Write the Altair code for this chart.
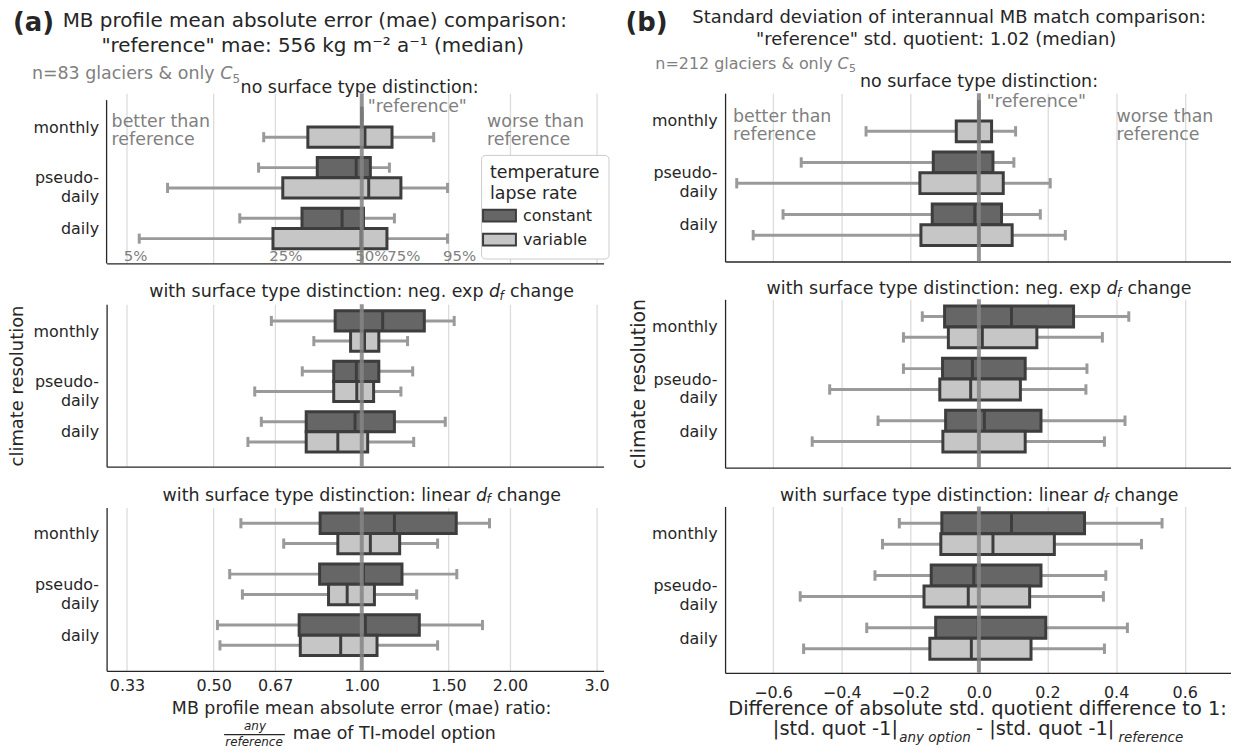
import altair as alt
import pandas as pd

FONT = "DejaVu Sans"
TXT = "#262626"
GRAY = "#808080"

climate_order = ["monthly", "pseudo-daily", "daily"]
box_climate = ["monthly", "monthly", "pseudo-daily", "pseudo-daily", "daily", "daily"]
box_lapse = ["constant", "variable", "constant", "variable", "constant", "variable"]

# each box: (5%, 25%, median, 75%, 95%)
mae_no_distinction = [
    (1.0, 1.0, 1.0, 1.0, 1.0),
    (0.632, 0.777, 1.015, 1.152, 1.40),
    (0.617, 0.812, 0.974, 1.041, 1.138),
    (0.403, 0.691, 1.033, 1.201, 1.494),
    (0.565, 0.756, 0.912, 1.008, 1.165),
    (0.353, 0.660, 0.997, 1.125, 1.494),
]
mae_neg_exp = [
    (0.655, 0.883, 1.103, 1.340, 1.541),
    (0.799, 0.949, 1.013, 1.083, 1.239),
    (0.757, 0.877, 0.975, 1.083, 1.269),
    (0.606, 0.877, 0.977, 1.057, 1.201),
    (0.625, 0.771, 0.969, 1.165, 1.478),
    (0.587, 0.771, 0.894, 1.028, 1.275),
]
mae_linear = [
    (0.568, 0.823, 1.165, 1.556, 1.818),
    (0.694, 0.894, 1.041, 1.194, 1.426),
    (0.539, 0.821, 1.008, 1.207, 1.560),
    (0.572, 0.856, 0.934, 1.061, 1.293),
    (0.509, 0.746, 1.017, 1.309, 1.759),
    (0.515, 0.750, 0.906, 1.074, 1.426),
]
std_no_distinction = [
    (0.0, 0.0, 0.0, 0.0, 0.0),
    (-0.329, -0.066, 0.0, 0.037, 0.107),
    (-0.518, -0.133, 0.0, 0.041, 0.102),
    (-0.706, -0.172, -0.002, 0.071, 0.208),
    (-0.571, -0.136, -0.012, 0.066, 0.179),
    (-0.658, -0.169, 0.0, 0.097, 0.252),
]
std_neg_exp = [
    (-0.165, -0.100, 0.095, 0.276, 0.437),
    (-0.220, -0.089, 0.010, 0.169, 0.360),
    (-0.220, -0.106, -0.019, 0.135, 0.315),
    (-0.435, -0.114, -0.024, 0.121, 0.312),
    (-0.294, -0.097, 0.016, 0.181, 0.426),
    (-0.486, -0.105, 0.0, 0.135, 0.366),
]
std_linear = [
    (-0.232, -0.108, 0.095, 0.308, 0.534),
    (-0.281, -0.111, 0.041, 0.220, 0.474),
    (-0.303, -0.139, -0.015, 0.181, 0.370),
    (-0.521, -0.160, -0.031, 0.148, 0.363),
    (-0.327, -0.126, -0.002, 0.195, 0.433),
    (-0.511, -0.143, -0.022, 0.152, 0.366),
]

mae_ticks = [1 / 3, 0.5, 2 / 3, 1.0, 1.5, 2.0, 3.0]
mae_tick_labels = ["0.33", "0.50", "0.67", "1.00", "1.50", "2.00", "3.0"]
std_ticks = [-0.6, -0.4, -0.2, 0.0, 0.2, 0.4, 0.6]
pct_labels = ["5%", "25%", "50%", "75%", "95%"]
pct_label_x = [0.347, 0.701, 1.048, 1.217, 1.58]


def box_frame(stats):
    rows = []
    for c, l, s in zip(box_climate, box_lapse, stats):
        g = climate_order.index(c)
        top = g - 0.4 if l == "constant" else g
        rows.append({"climate": c, "lapse": l, "lo": s[0], "q1": s[1], "med": s[2],
                     "q3": s[3], "hi": s[4], "top": top, "bot": top + 0.4,
                     "mid": top + 0.2, "cap0": top + 0.1, "cap1": top + 0.3})
    return pd.DataFrame(rows)


mae_expr = " : ".join(
    f"abs(datum.value - {t}) < 1e-6 ? '{lab}'" for t, lab in zip(mae_ticks, mae_tick_labels)
) + " : ''"
ylab_expr = ("datum.value == 0 ? 'monthly' : datum.value == 1 ? ['pseudo-', 'daily'] : "
             "datum.value == 2 ? 'daily' : ''")


def y_axis(title=None, size=18, pad=7, domain=True):
    return alt.Axis(values=[0, 1, 2], labelExpr=ylab_expr, title=title, ticks=False, grid=False,
                    labelPadding=8, labelFontSize=16, labelColor=TXT, labelLineHeight=19,
                    domain=domain, domainColor=TXT, domainWidth=1.3, titleFontSize=size,
                    titleFontWeight="normal", titleColor=TXT, titlePadding=pad, titleFont=FONT,
                    labelFont=FONT)


def x_axis(kind, labels):
    kw = dict(grid=True, gridColor="#dcdcdc", gridWidth=1.3, ticks=False, labels=labels,
              title=None, domainColor=TXT, domainWidth=1.3, labelFontSize=16, labelColor=TXT,
              labelOverlap=False, labelFlush=False, labelFont=FONT)
    if kind == "mae":
        return alt.Axis(values=mae_ticks, labelExpr=mae_expr, labelPadding=7, **kw)
    return alt.Axis(values=std_ticks, format=".1f", labelPadding=12, **kw)


def text(t, x, y, size, color=TXT, align="left", style="normal", weight="normal",
         baseline="middle", line_height=None):
    props = dict(x=x, y=y, fontSize=size, color=color, align=align, baseline=baseline,
                 fontStyle=style, fontWeight=weight, font=FONT)
    if line_height is not None:
        props.update(lineBreak="\n", lineHeight=line_height)
    return alt.Chart(pd.DataFrame({"t": [t]})).mark_text(**props).encode(text="t:N")


def panel(stats, kind, ref, width, height, ydomain, yaxis, labels, extra, legend=None):
    df = box_frame(stats)
    if kind == "mae":
        xscale = alt.Scale(type="log", domain=[0.303, 3.10], nice=False)
    else:
        xscale = alt.Scale(domain=[-0.74, 0.735], nice=False, zero=False)
    xaxis = x_axis(kind, labels)
    yscale = alt.Scale(domain=ydomain, reverse=True, nice=False, zero=False)

    def X(f):
        return alt.X(f, type="quantitative", scale=xscale, axis=xaxis)

    def Y(f):
        return alt.Y(f, type="quantitative", scale=yscale, axis=yaxis)

    base = alt.Chart(df)
    whisk = base.mark_rule(color="#9a9a9a", strokeWidth=3).encode(x=X("lo"), x2="hi", y=Y("mid"))
    cap_lo = base.mark_rule(color="#9a9a9a", strokeWidth=3).encode(x=X("lo"), y=Y("cap0"), y2="cap1")
    cap_hi = base.mark_rule(color="#9a9a9a", strokeWidth=3).encode(x=X("hi"), y=Y("cap0"), y2="cap1")
    fill = alt.Fill("lapse:N", scale=alt.Scale(domain=["constant", "variable"],
                                                range=["#666666", "#c6c6c6"]), legend=legend)
    boxes = base.mark_rect(stroke="#3d3d3d", strokeWidth=3).encode(
        x=X("q1"), x2="q3", y=Y("top"), y2="bot", fill=fill)
    med = base.mark_rule(color="#3d3d3d", strokeWidth=3).encode(x=X("med"), y=Y("top"), y2="bot")
    refdf = pd.DataFrame({"ref": [ref]})
    refl = alt.Chart(refdf).mark_rule(color="#858585", strokeWidth=4, opacity=0.85).encode(x=X("ref"))
    layers = [whisk, cap_lo, cap_hi, boxes, med, refl]
    for e in extra:
        if callable(e):
            layers.append(e(X))
        else:
            layers.append(e)
    return alt.layer(*layers).properties(width=width, height=height)


def ref_label(ref, dx, y):
    def f(X):
        return alt.Chart(pd.DataFrame({"ref": [ref], "t": ['"reference"']})).mark_text(
            dx=dx, y=y, fontSize=17.5, color=GRAY, align="left", baseline="middle", font=FONT
        ).encode(x=X("ref"), text="t:N")
    return f


def pct_layer(X):
    return alt.Chart(pd.DataFrame({"px": pct_label_x, "t": pct_labels})).mark_text(
        y=164, fontSize=15, color=GRAY, align="center", baseline="middle", font=FONT
    ).encode(x=X("px"), text="t:N")


def df_title(prefix, X0, y, size=17.5):
    return [
        text(prefix, X0 - 5.6, y, size, align="right"),
        text("d", X0, y, size, style="italic"),
        text("f", X0 + 10.5, y + 4, 12, style="italic"),
        text("change", X0 + 21, y, size),
    ]


legend = alt.Legend(orient="none", legendX=376, legendY=62, title=["temperature", "lapse rate"],
                    titleFontSize=17.5, titleFontWeight="normal", titleColor=TXT, titleFont=FONT,
                    titleLineHeight=21, labelFontSize=16, labelColor=TXT, labelFont=FONT,
                    symbolType="M-2,-0.72H2V0.72H-2Z", symbolSize=272.25,
                    symbolStrokeColor="#3d3d3d", symbolStrokeWidth=2, symbolOpacity=1,
                    padding=9, strokeColor="#cccccc", fillColor="white", cornerRadius=4,
                    rowPadding=3, titlePadding=4, labelOffset=14)

LW = 499
RW = 508

spine = alt.Chart(pd.DataFrame({"t": [""]})).mark_rule(color=TXT, strokeWidth=1.3).encode(
    x=alt.value(0), y=alt.value(7), y2=alt.value(171))

left_top_extra = [
    spine,
    text("(a)", -94, -70, 26, weight="bold"),
    text("MB profile mean absolute error (mae) comparison:", 209, -72, 20, align="center"),
    text('"reference" mae: 556 kg m\u207b\u00b2 a\u207b\u00b9 (median)', 207, -47, 20, align="center"),
    text("n=83 glaciers & only", -75, -19, 17.5, color=GRAY),
    text("C", 114, -19, 17.5, color=GRAY, style="italic"),
    text("5", 126.5, -14, 12, color=GRAY),
    text("no surface type distinction:", 254, -5, 17.5, align="center"),
    text("better than\nreference", 5, 20, 17.5, color=GRAY, baseline="top", line_height=18),
    text("worse than\nreference", 382, 20, 17.5, color=GRAY, baseline="top", line_height=18),
    ref_label(1.0, 6, 14),
    pct_layer,
]
left_mid_extra = df_title("with surface type distinction: neg. exp", 384, -12)
left_bot_extra = df_title("with surface type distinction: linear", 371, -12) + [
    text("MB profile mean absolute error (mae) ratio:", 256, 202, 17.5, align="center"),
    text("any", 149, 219, 12, align="center", style="italic"),
    alt.Chart(pd.DataFrame({"t": [""]})).mark_rule(color=TXT, strokeWidth=1.2).encode(
        x=alt.value(118), x2=alt.value(179), y=alt.value(228)),
    text("reference", 148, 236, 12, align="center", style="italic"),
    text("mae of TI-model option", 187, 227, 17.5),
]

right_top_extra = [
    text("(b)", -100, -70, 26, weight="bold"),
    text("Standard deviation of interannual MB match comparison:", 225, -75, 18, align="center"),
    text('"reference" std. quotient: 1.02 (median)', 212, -53, 18, align="center"),
    text("n=212 glaciers & only", -70, -29, 16, color=GRAY),
    text("C", 113, -29, 16, color=GRAY, style="italic"),
    text("5", 124.5, -24, 11, color=GRAY),
    text("no surface type distinction:", 255, -11, 17.5, align="center"),
    text("better than\nreference", 8, 15, 17.5, color=GRAY, baseline="top", line_height=18),
    text("worse than\nreference", 393, 15, 17.5, color=GRAY, baseline="top", line_height=18),
    ref_label(0.0, 8, 9),
]
right_mid_extra = df_title("with surface type distinction: neg. exp", 383, -10)
right_bot_extra = df_title("with surface type distinction: linear", 370, -11) + [
    text("Difference of absolute std. quotient difference to 1:", 253.5, 203, 19.5, align="center"),
    text("|std. quot -1|", 48, 223, 19.5),
    text("any option", 175, 232, 13.5, style="italic"),
    text("- |std. quot -1|", 252, 223, 19.5),
    text("reference", 395, 232, 13.5, style="italic"),
]

pl1 = panel(mae_no_distinction, "mae", 1.0, LW, 171, [-0.668, 2.69], y_axis(domain=False), False,
            left_top_extra, legend)
pl2 = panel(mae_neg_exp, "mae", 1.0, LW, 163, [-0.53, 2.69], y_axis("climate resolution", 18),
            False, left_mid_extra)
pl3 = panel(mae_linear, "mae", 1.0, LW, 164, [-0.51, 2.70], y_axis(), True, left_bot_extra)

pr1 = panel(std_no_distinction, "std", 0.0, RW, 169, [-0.535, 2.707], y_axis(pad=3), False,
            right_top_extra)
pr2 = panel(std_neg_exp, "std", 0.0, RW, 169, [-0.53, 2.70], y_axis("climate resolution", 19, pad=3),
            False, right_mid_extra)
pr3 = panel(std_linear, "std", 0.0, RW, 167, [-0.52, 2.66], y_axis(pad=3), True, right_bot_extra)

left = alt.vconcat(pl1, pl2, pl3, spacing=18).resolve_scale(color="independent")
right = alt.vconcat(pr1, pr2, pr3, spacing=17).resolve_scale(color="independent")

chart = alt.hconcat(left, right, spacing=16).resolve_scale(color="independent").properties(
    padding=0
).configure(font=FONT).configure_view(stroke=None)

chart.save("out.html", embed_options={"renderer": "svg", "actions": False})
